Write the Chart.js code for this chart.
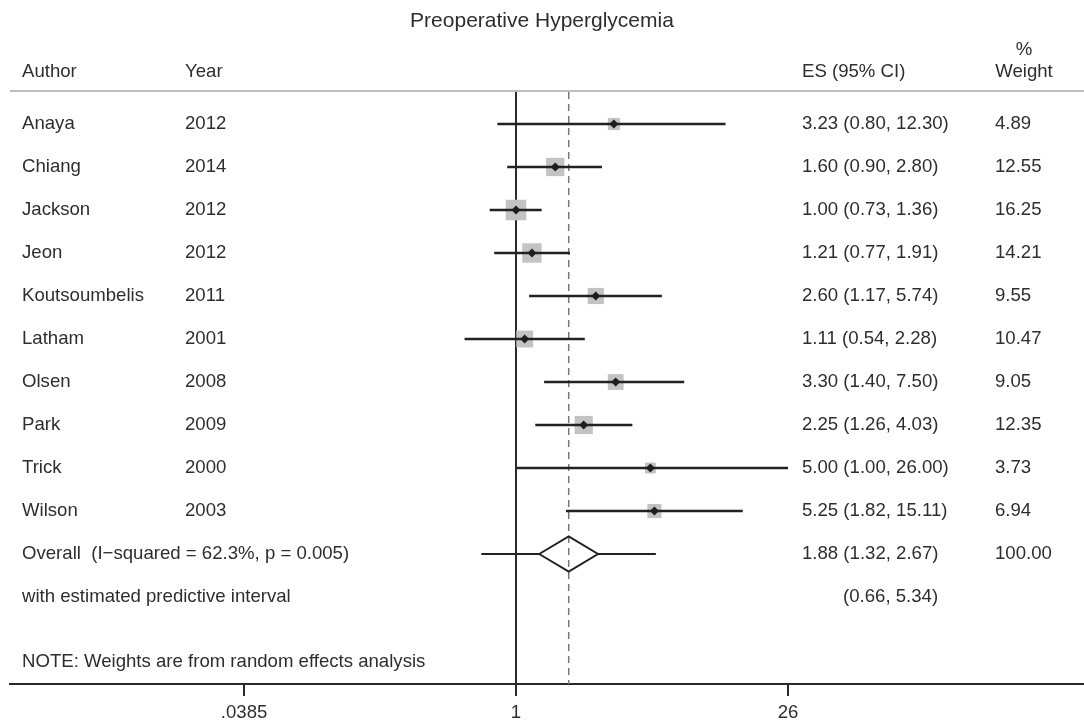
<!DOCTYPE html>
<html>
<head>
<meta charset="utf-8">
<title>Preoperative Hyperglycemia</title>
<script src="https://cdn.jsdelivr.net/npm/chart.js@4/dist/chart.umd.min.js"></script>
<style>
  html, body { margin: 0; padding: 0; background: #ffffff; }
  canvas { display: block; }
</style>
</head>
<body>
<canvas id="forest" width="1084" height="722"></canvas>
<script>
// Study-level data
const authors = ['Anaya', 'Chiang', 'Jackson', 'Jeon', 'Koutsoumbelis', 'Latham', 'Olsen', 'Park', 'Trick', 'Wilson'];
const years = [2012, 2014, 2012, 2012, 2011, 2001, 2008, 2009, 2000, 2003];
const es = [3.23, 1.60, 1.00, 1.21, 2.60, 1.11, 3.30, 2.25, 5.00, 5.25];
const ciLow = [0.80, 0.90, 0.73, 0.77, 1.17, 0.54, 1.40, 1.26, 1.00, 1.82];
const ciHigh = [12.30, 2.80, 1.36, 1.91, 5.74, 2.28, 7.50, 4.03, 26.00, 15.11];
const weights = [4.89, 12.55, 16.25, 14.21, 9.55, 10.47, 9.05, 12.35, 3.73, 6.94];

// Pooled estimate (random effects)
const overallEs = 1.88;
const overallLow = 1.32;
const overallHigh = 2.67;
const overallWeight = 100.00;
const predictive = [0.66, 5.34];
const heterogeneity = 'Overall  (I\u2212squared = 62.3%, p = 0.005)';

// Axis ticks
const tickValues = [0.0385, 1, 26];
const tickLabels = ['.0385', '1', '26'];

const FONT = '"Liberation Sans", Arial, Helvetica, sans-serif';
const INK = '#2e2e2e';
const BODY = '18.6px ' + FONT;

const overallRow = authors.length;
const predRow = overallRow + 1;
const noteRow = overallRow + 2.5;
const Y_MIN = -0.744, Y_MAX = 13.023;
const DIAMOND_HALF = 0.41;

const fmt = v => v.toFixed(2);

const datasets = [];

// line of no effect
datasets.push({
  data: [{ x: 1, y: Y_MIN }, { x: 1, y: Y_MAX }],
  showLine: true, borderColor: '#2a2a2a', borderWidth: 2,
  pointRadius: 0, order: 10
});
// pooled estimate reference
datasets.push({
  data: [{ x: overallEs, y: Y_MIN }, { x: overallEs, y: Y_MAX }],
  showLine: true, borderColor: '#777777', borderWidth: 1.5, borderDash: [7, 5],
  pointRadius: 0, order: 9
});
// weight boxes
datasets.push({
  data: es.map((v, i) => ({ x: v, y: i })),
  showLine: false, pointStyle: 'rect',
  pointRadius: weights.map(w => (4.6 * Math.sqrt(w) + 2) / Math.SQRT2),
  backgroundColor: '#c3c3c3', borderWidth: 0, order: 6
});
// confidence intervals
es.forEach((_, i) => {
  datasets.push({
    data: [{ x: ciLow[i], y: i }, { x: ciHigh[i], y: i }],
    showLine: true, borderColor: '#222222', borderWidth: 2.5,
    pointRadius: 0, order: 4
  });
});
// point estimates
datasets.push({
  data: es.map((v, i) => ({ x: v, y: i })),
  showLine: false, pointStyle: 'rectRot', pointRadius: 4.5,
  backgroundColor: '#1e1e1e', borderWidth: 0, order: 1
});
// predictive interval, either side of the diamond
datasets.push({
  data: [{ x: predictive[0], y: overallRow }, { x: overallLow, y: overallRow }],
  showLine: true, borderColor: '#222222', borderWidth: 2, pointRadius: 0, order: 3
});
datasets.push({
  data: [{ x: overallHigh, y: overallRow }, { x: predictive[1], y: overallRow }],
  showLine: true, borderColor: '#222222', borderWidth: 2, pointRadius: 0, order: 3
});
// pooled diamond
datasets.push({
  data: [
    { x: overallLow, y: overallRow },
    { x: overallEs, y: overallRow - DIAMOND_HALF },
    { x: overallHigh, y: overallRow },
    { x: overallEs, y: overallRow + DIAMOND_HALF },
    { x: overallLow, y: overallRow }
  ],
  showLine: true, borderColor: '#222222', borderWidth: 2, borderJoinStyle: 'miter',
  fill: false, pointRadius: 0, order: 2
});

// Table text, header and rule
const tablePlugin = {
  id: 'forestTable',
  afterDraw(chart) {
    const ctx = chart.ctx;
    const ys = chart.scales.y;
    const yAt = r => ys.getPixelForValue(r);
    const colAuthor = 22, colYear = 185, colEs = 802, colW = 995;

    ctx.save();
    ctx.fillStyle = INK;
    ctx.textBaseline = 'middle';

    ctx.font = '21px ' + FONT;
    ctx.textAlign = 'center';
    ctx.fillText('Preoperative Hyperglycemia', 542, 21);

    ctx.font = BODY;
    ctx.fillText('%', 1024, 50);
    ctx.fillText('Weight', 1024, 72);
    ctx.textAlign = 'left';
    ctx.fillText('Author', colAuthor, 72);
    ctx.fillText('Year', colYear, 72);
    ctx.fillText('ES (95% CI)', colEs, 72);

    ctx.strokeStyle = '#bdbdbd';
    ctx.lineWidth = 2;
    ctx.beginPath();
    ctx.moveTo(10, 91);
    ctx.lineTo(1084, 91);
    ctx.stroke();

    authors.forEach((a, i) => {
      const y = yAt(i);
      ctx.fillText(a, colAuthor, y);
      ctx.fillText(String(years[i]), colYear, y);
      ctx.fillText(fmt(es[i]) + ' (' + fmt(ciLow[i]) + ', ' + fmt(ciHigh[i]) + ')', colEs, y);
      ctx.fillText(fmt(weights[i]), colW, y);
    });

    let y = yAt(overallRow);
    ctx.fillText(heterogeneity, colAuthor, y);
    ctx.fillText(fmt(overallEs) + ' (' + fmt(overallLow) + ', ' + fmt(overallHigh) + ')', colEs, y);
    ctx.fillText(fmt(overallWeight), colW, y);

    y = yAt(predRow);
    ctx.fillText('with estimated predictive interval', colAuthor, y);
    ctx.fillText('(' + fmt(predictive[0]) + ', ' + fmt(predictive[1]) + ')', 843, y);

    ctx.fillText('NOTE: Weights are from random effects analysis', colAuthor, yAt(noteRow));
    ctx.restore();
  }
};

new Chart(document.getElementById('forest'), {
  type: 'scatter',
  data: { datasets },
  options: {
    responsive: false,
    animation: false,
    events: [],
    devicePixelRatio: 1,
    layout: { autoPadding: false, padding: { left: 10, right: 0, top: 92, bottom: 0 } },
    plugins: { legend: { display: false }, tooltip: { enabled: false } },
    scales: {
      x: {
        type: 'logarithmic',
        min: 0.002334,
        max: 900.3,
        bounds: 'data',
        afterBuildTicks: scale => { scale.ticks = tickValues.map(v => ({ value: v })); },
        afterFit: scale => {
          scale.height = 38;
          scale.paddingLeft = 0;
          scale.paddingRight = 0;
        },
        ticks: {
          autoSkip: false,
          maxRotation: 0,
          padding: 6,
          color: INK,
          font: { family: FONT, size: 18.6 },
          callback: v => tickLabels[tickValues.indexOf(v)] ?? ''
        },
        grid: { drawOnChartArea: false, drawTicks: true, tickLength: 12, color: '#2a2a2a', lineWidth: 2 },
        border: { display: true, color: '#2a2a2a', width: 2 }
      },
      y: {
        type: 'linear',
        display: false,
        reverse: true,
        min: Y_MIN,
        max: Y_MAX
      }
    }
  },
  plugins: [tablePlugin]
});
</script>
</body>
</html>
